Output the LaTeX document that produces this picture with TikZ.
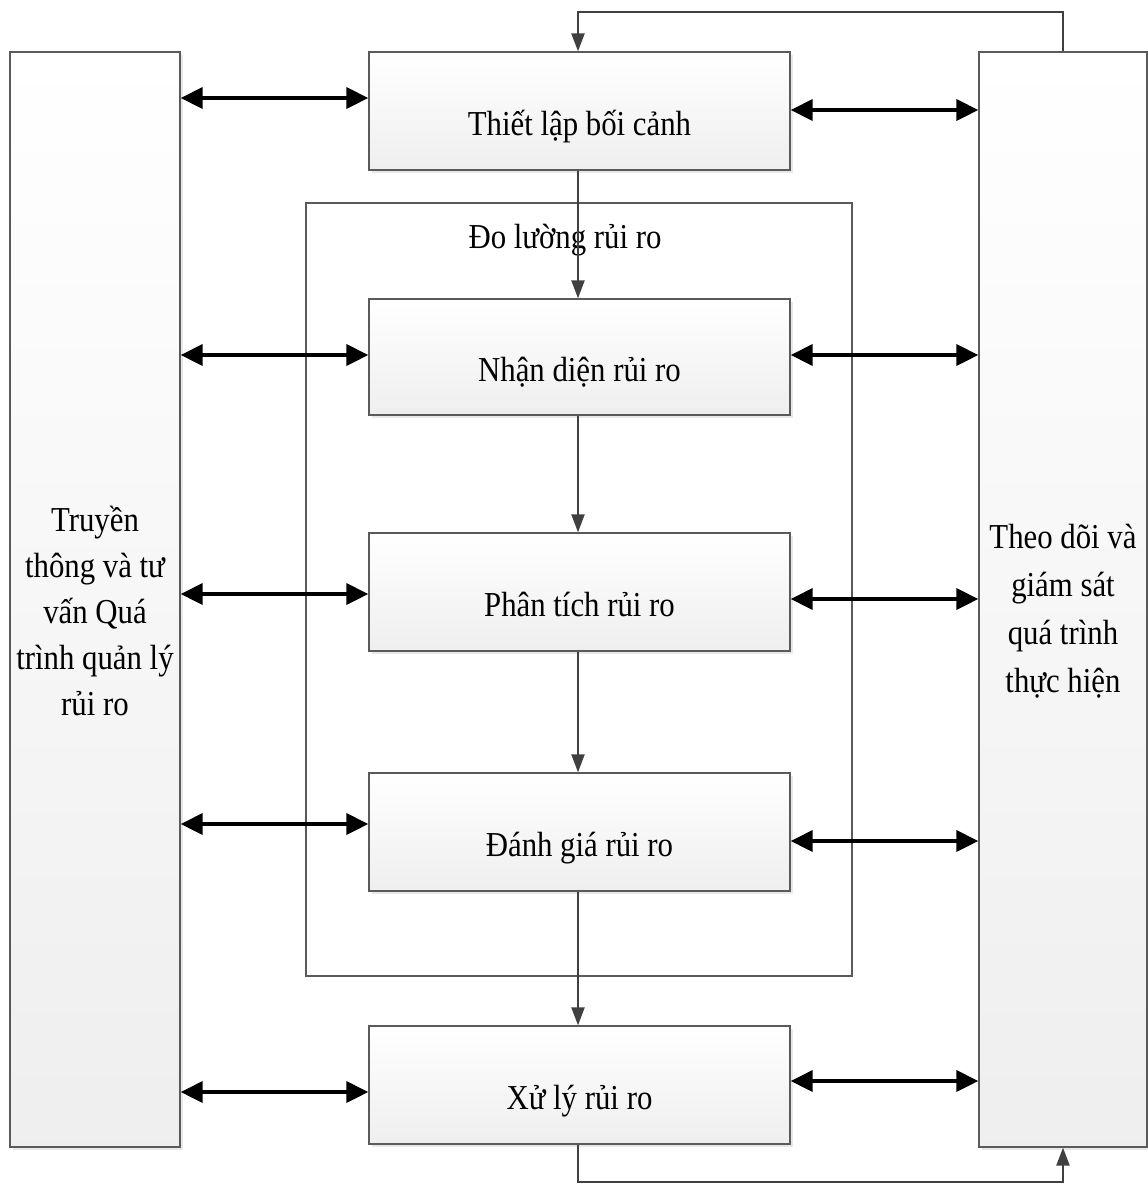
\documentclass[tikz,border=0pt]{standalone}
\usepackage{fontspec}
\setmainfont[FakeStretch=0.88]{Liberation Serif}
\usetikzlibrary{arrows.meta,shadows}
\definecolor{boxline}{HTML}{5A5A5A}
\definecolor{arrowgray}{HTML}{404040}
\begin{document}
\begin{tikzpicture}[x=1pt,y=-1pt,
  box/.style={draw=boxline, line width=1.3pt, top color=white, bottom color=gray!13,
    drop shadow={shadow xshift=3pt,shadow yshift=-3pt,fill=gray!45,opacity=0.4},
    minimum width=421pt, minimum height=118pt, inner sep=0pt,
    font=\fontsize{35}{46}\selectfont, align=center, text height=52pt, text depth=4pt},
  side/.style={draw=boxline, line width=1.3pt, top color=white, bottom color=gray!13,
    drop shadow={shadow xshift=3pt,shadow yshift=-3pt,fill=gray!45,opacity=0.4},
    minimum width=170pt, minimum height=1095pt, inner sep=0pt},
  frame/.style={draw=boxline, line width=1.1pt, minimum width=546pt, minimum height=773pt, inner sep=0pt,
    double=gray!12, double distance=0.8pt},
  lbl/.style={font=\fontsize{35}{46}\selectfont, inner sep=0pt, align=center},
  dbl/.style={{Triangle[length=22pt,width=21pt]}-{Triangle[length=22pt,width=21pt]}, line width=3.5pt, black},
  flow/.style={-{Triangle[length=18pt,width=13pt]}, line width=2.2pt, arrowgray},
  loop/.style={line width=2.4pt, arrowgray}
]
\useasboundingbox (0,0) rectangle (1148,1184);
\node[draw=boxline, line width=1.1pt, minimum width=546pt, minimum height=773pt, inner sep=0pt] (C) at (579,589.5) {};
\node[lbl] (CL) at (565,240) {Đo lường rủi ro};

\node[side] (L) at (95,599.5) {};
\node[side, minimum width=168pt] (R) at (1063,599.5) {};
\node[lbl] (Ltxt) at (L.center) [yshift=-11.5pt] {Truyền\\thông và tư\\vấn Quá\\trình quản lý\\rủi ro};
\node[lbl, font=\fontsize{35}{48}\selectfont] (Rtxt) at (R.center) [yshift=-11.5pt] {Theo dõi và\\giám sát\\quá trình\\thực hiện};

\node[box] (T) at (579.5,111) {Thiết lập bối cảnh};
\node[box, minimum height=116pt] (N) at (579.5,357) {Nhận diện rủi ro};
\node[box] (P) at (579.5,592) {Phân tích rủi ro};
\node[box] (D) at (579.5,832) {Đánh giá rủi ro};
\node[box] (X) at (579.5,1085) {Xử lý rủi ro};

% vertical flow
\draw[flow] (T.south -| 578,0) -- (N.north -| 578,0);
\draw[flow] (N.south -| 578,0) -- (P.north -| 578,0);
\draw[flow] (P.south -| 578,0) -- (D.north -| 578,0);
\draw[flow] (D.south -| 578,0) -- (X.north -| 578,0);

% feedback loops
\draw[loop, -{Triangle[length=18pt,width=13pt]}] (R.north) -- (R.north |- 0,12) -- (578,12) -- (T.north -| 578,0);
\draw[loop, -{Triangle[length=18pt,width=13pt]}] (X.south -| 578,0) -- (578,1182) -- (R.south |- 0,1182) -- (R.south);

% left double arrows
\draw[dbl] (L.east |- 0,98) -- (T.west |- 0,98);
\draw[dbl] (L.east |- 0,355) -- (N.west |- 0,355);
\draw[dbl] (L.east |- 0,594) -- (P.west |- 0,594);
\draw[dbl] (L.east |- 0,824) -- (D.west |- 0,824);
\draw[dbl] (L.east |- 0,1092) -- (X.west |- 0,1092);

% right double arrows
\draw[dbl] (T.east |- 0,110) -- (R.west |- 0,110);
\draw[dbl] (N.east |- 0,355) -- (R.west |- 0,355);
\draw[dbl] (P.east |- 0,599) -- (R.west |- 0,599);
\draw[dbl] (D.east |- 0,841) -- (R.west |- 0,841);
\draw[dbl] (X.east |- 0,1081) -- (R.west |- 0,1081);
\end{tikzpicture}
\end{document}
